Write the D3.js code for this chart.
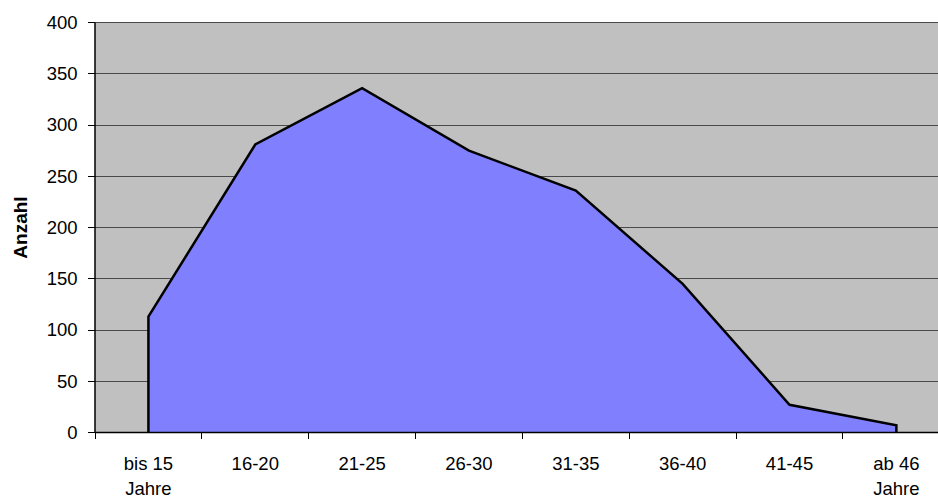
<!DOCTYPE html>
<html>
<head>
<meta charset="utf-8">
<script src="https://cdn.jsdelivr.net/npm/d3@7"></script>
<style>
  html, body { margin: 0; padding: 0; background: #fff; overflow: hidden; }
  svg { display: block; font-family: "Liberation Sans", Arial, sans-serif; }
</style>
</head>
<body>
<svg id="chart" width="938" height="501"></svg>
<script>
// Age groups (two-line labels) and counts per group
const categories = [["bis 15", "Jahre"], ["16-20"], ["21-25"], ["26-30"], ["31-35"], ["36-40"], ["41-45"], ["ab 46", "Jahre"]];
const values = [113, 281, 336, 275, 236, 145, 27, 7];
const yTicks = [0, 50, 100, 150, 200, 250, 300, 350, 400];
const yTitle = "Anzahl";

const svg = d3.select("#chart");
const plotLeft = 95, plotTop = 22.5, plotBottom = 432.5;
const step = 106.85;
const plotRight = plotLeft + step * categories.length; // plot runs past the window edge

const keys = categories.map(c => c.join(" "));
const x = d3.scaleBand().domain(keys).range([plotLeft, plotRight]).padding(0);
const y = d3.scaleLinear().domain([0, 400]).range([plotBottom, plotTop]);
const cx = k => x(k) + x.bandwidth() / 2;

// plot background
svg.append("rect")
  .attr("x", plotLeft).attr("y", plotTop)
  .attr("width", plotRight - plotLeft).attr("height", plotBottom - plotTop)
  .attr("fill", "#c0c0c0");

// horizontal gridlines (including the top border)
svg.append("g").selectAll("line")
  .data(yTicks.filter(d => d > 0))
  .join("line")
  .attr("x1", plotLeft).attr("x2", plotRight)
  .attr("y1", d => y(d)).attr("y2", d => y(d))
  .attr("stroke", "#4a4a4a").attr("stroke-width", 1)
  .attr("shape-rendering", "crispEdges");

// area with outline, closed down to zero at both ends
const pts = keys.map((k, i) => [cx(k), y(values[i])]);
const areaPath = d3.line()([[cx(keys[0]), y(0)], ...pts, [cx(keys[keys.length - 1]), y(0)]]);
svg.append("path")
  .attr("d", areaPath)
  .attr("fill", "#8080ff")
  .attr("stroke", "#000")
  .attr("stroke-width", 2.5)
  .attr("stroke-linejoin", "miter");

// y axis line and ticks
svg.append("line")
  .attr("x1", plotLeft).attr("x2", plotLeft).attr("y1", plotTop).attr("y2", plotBottom)
  .attr("stroke", "#000").attr("stroke-width", 1.5);
svg.append("g").selectAll("line")
  .data(yTicks).join("line")
  .attr("x1", plotLeft - 7).attr("x2", plotLeft)
  .attr("y1", d => y(d)).attr("y2", d => y(d))
  .attr("stroke", "#000").attr("stroke-width", 1)
  .attr("shape-rendering", "crispEdges");
svg.append("g").selectAll("text")
  .data(yTicks).join("text")
  .attr("x", 77.5).attr("y", d => y(d))
  .attr("dy", "0.35em")
  .attr("text-anchor", "end")
  .attr("font-size", 18.5)
  .attr("fill", "#000")
  .text(d => d);

// x axis line and ticks at category boundaries
svg.append("line")
  .attr("x1", plotLeft).attr("x2", plotRight).attr("y1", plotBottom).attr("y2", plotBottom)
  .attr("stroke", "#000").attr("stroke-width", 1.5);
svg.append("g").selectAll("line")
  .data(keys).join("line")
  .attr("x1", d => x(d)).attr("x2", d => x(d))
  .attr("y1", plotBottom).attr("y2", plotBottom + 6.5)
  .attr("stroke", "#000").attr("stroke-width", 1)
  .attr("shape-rendering", "crispEdges");

// category labels
const lbl = svg.append("g").selectAll("text")
  .data(categories).join("text")
  .attr("x", (d, i) => cx(keys[i]))
  .attr("y", 470)
  .attr("text-anchor", "middle")
  .attr("font-size", 18.5)
  .attr("fill", "#000");
lbl.selectAll("tspan")
  .data(d => d).join("tspan")
  .attr("x", function () { return this.parentNode.getAttribute("x"); })
  .attr("dy", (d, i) => i === 0 ? 0 : 24.5)
  .text(d => d);

// y axis title
svg.append("text")
  .attr("transform", `translate(26.5, ${(plotTop + plotBottom) / 2}) rotate(-90)`)
  .attr("text-anchor", "middle")
  .attr("font-size", 19)
  .attr("font-weight", "bold")
  .attr("fill", "#000")
  .text(yTitle);
</script>
</body>
</html>
